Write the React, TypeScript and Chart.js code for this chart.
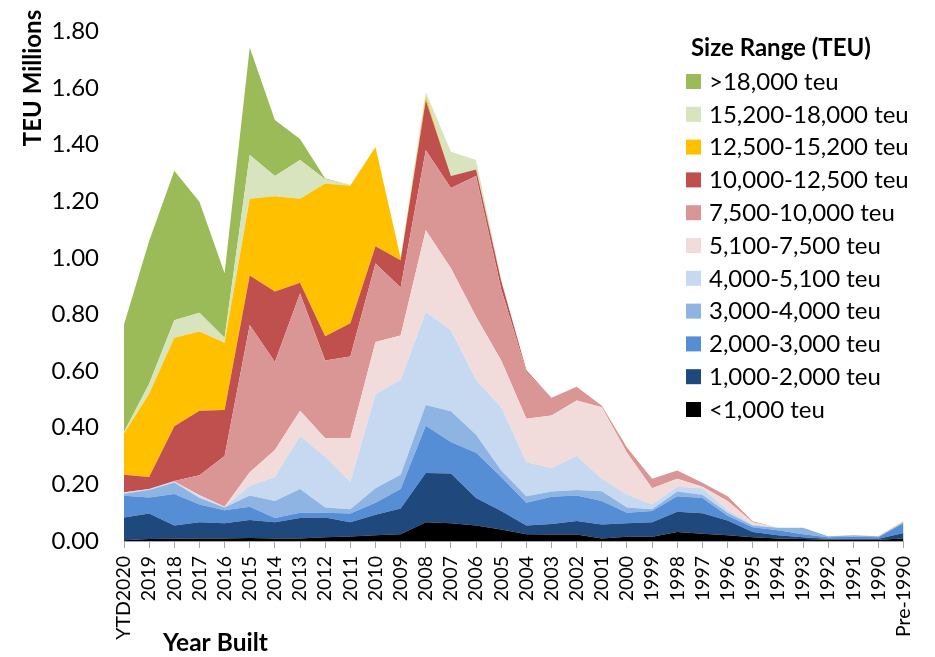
import React, { useEffect, useRef } from "react";
import { Chart, registerables } from "chart.js";

Chart.register(...registerables);

const categories = [
  "YTD2020", "2019", "2018", "2017", "2016", "2015", "2014", "2013", "2012", "2011",
  "2010", "2009", "2008", "2007", "2006", "2005", "2004", "2003", "2002", "2001",
  "2000", "1999", "1998", "1997", "1996", "1995", "1994", "1993", "1992", "1991",
  "1990", "Pre-1990",
];

const yTicks = [0, 0.2, 0.4, 0.6, 0.8, 1.0, 1.2, 1.4, 1.6, 1.8];

const lt1000 = [0.003, 0.007, 0.008, 0.009, 0.009, 0.011, 0.009, 0.009, 0.013, 0.016, 0.020, 0.024, 0.066, 0.063, 0.055, 0.041, 0.024, 0.023, 0.023, 0.009, 0.015, 0.015, 0.032, 0.026, 0.020, 0.013, 0.009, 0.007, 0.004, 0.004, 0.004, 0.009];
const s1000to2000 = [0.080, 0.090, 0.047, 0.057, 0.054, 0.063, 0.057, 0.072, 0.070, 0.050, 0.073, 0.091, 0.174, 0.175, 0.097, 0.065, 0.031, 0.037, 0.048, 0.049, 0.048, 0.051, 0.071, 0.072, 0.052, 0.019, 0.011, 0.006, 0.004, 0.004, 0.004, 0.019];
const s2000to3000 = [0.077, 0.057, 0.111, 0.063, 0.046, 0.047, 0.015, 0.019, 0.017, 0.031, 0.042, 0.069, 0.167, 0.112, 0.160, 0.120, 0.080, 0.096, 0.090, 0.083, 0.037, 0.040, 0.055, 0.054, 0.017, 0.017, 0.018, 0.011, 0.005, 0.007, 0.005, 0.036];
const s3000to4000 = [0.007, 0.026, 0.041, 0.023, 0.009, 0.040, 0.060, 0.084, 0.018, 0.015, 0.051, 0.050, 0.073, 0.108, 0.063, 0.023, 0.023, 0.019, 0.019, 0.035, 0.018, 0.006, 0.017, 0.011, 0.011, 0.006, 0.009, 0.023, 0.004, 0.005, 0.004, 0.002];
const s4000to5100 = [0.003, 0.002, 0.002, 0.005, 0.002, 0.034, 0.085, 0.187, 0.180, 0.097, 0.332, 0.335, 0.329, 0.286, 0.194, 0.223, 0.120, 0.083, 0.120, 0.044, 0.046, 0.017, 0.017, 0.023, 0.009, 0.003, 0, 0, 0, 0, 0, 0.002];
const s5100to7500 = [0.001, 0.001, 0.001, 0.005, 0.001, 0.048, 0.095, 0.089, 0.065, 0.154, 0.185, 0.157, 0.289, 0.219, 0.223, 0.166, 0.154, 0.185, 0.196, 0.252, 0.148, 0.057, 0.028, 0.006, 0.032, 0.008, 0, 0, 0, 0, 0, 0];
const s7500to10000 = [0.001, 0.001, 0.002, 0.070, 0.179, 0.520, 0.311, 0.414, 0.275, 0.289, 0.277, 0.169, 0.282, 0.284, 0.497, 0.251, 0.166, 0.063, 0.049, 0.006, 0.018, 0.034, 0.029, 0.014, 0.017, 0.004, 0, 0, 0, 0, 0, 0];
const s10000to12500 = [0.062, 0.042, 0.193, 0.228, 0.163, 0.175, 0.249, 0.038, 0.085, 0.117, 0.061, 0.097, 0.177, 0.042, 0.023, 0.029, 0.005, 0, 0, 0, 0, 0, 0, 0, 0, 0, 0, 0, 0, 0, 0, 0];
const s12500to15200 = [0.146, 0.294, 0.313, 0.280, 0.237, 0.271, 0.337, 0.297, 0.540, 0.486, 0.351, 0.008, 0.012, 0, 0, 0, 0, 0, 0, 0, 0, 0, 0, 0, 0, 0, 0, 0, 0, 0, 0, 0.002];
const s15200to18000 = [0.005, 0.035, 0.062, 0.066, 0.018, 0.154, 0.071, 0.137, 0.015, 0.003, 0, 0, 0.017, 0.086, 0.034, 0.004, 0, 0, 0, 0, 0, 0, 0, 0, 0, 0, 0, 0, 0, 0, 0, 0.002];
const gt18000 = [0.380, 0.505, 0.528, 0.392, 0.228, 0.380, 0.198, 0.074, 0.002, 0, 0, 0, 0, 0, 0, 0, 0, 0, 0, 0, 0, 0, 0, 0, 0, 0, 0, 0, 0, 0, 0, 0];

const seriesLabels = [
  "<1,000 teu", "1,000-2,000 teu", "2,000-3,000 teu", "3,000-4,000 teu", "4,000-5,100 teu",
  "5,100-7,500 teu", "7,500-10,000 teu", "10,000-12,500 teu", "12,500-15,200 teu",
  "15,200-18,000 teu", ">18,000 teu",
];
const seriesData = [
  lt1000, s1000to2000, s2000to3000, s3000to4000, s4000to5100, s5100to7500,
  s7500to10000, s10000to12500, s12500to15200, s15200to18000, gt18000,
];
const seriesColors = [
  "#000000", "#1F497D", "#558ED5", "#8EB4E3", "#C6D9F1", "#F2DCDB",
  "#D99694", "#C0504D", "#FFC000", "#D7E4BD", "#9BBB59",
];

const FONT = "Lato, 'Open Sans', sans-serif";

const overlayPlugin = {
  id: "overlay",
  afterDraw(chart: any) {
    const ctx = chart.ctx;
    ctx.save();
    ctx.fillStyle = "#000";
    // Y title
    ctx.save();
    ctx.translate(33, 78);
    ctx.rotate(-Math.PI / 2);
    ctx.font = `bold 24px ${FONT}`;
    ctx.textAlign = "center";
    ctx.textBaseline = "middle";
    ctx.fillText("TEU Millions", 0, 0);
    ctx.restore();
    // X title
    ctx.font = `bold 24.5px ${FONT}`;
    ctx.textAlign = "left";
    ctx.textBaseline = "middle";
    ctx.fillText("Year Built", 163, 643);
    // Legend
    ctx.font = `bold 24px ${FONT}`;
    ctx.fillText("Size Range (TEU)", 691, 48);
    ctx.font = `24px ${FONT}`;
    const ds = chart.data.datasets;
    for (let k = 0; k < ds.length; k++) {
      const d = ds[ds.length - 1 - k];
      const y = 81 + k * 32.8;
      ctx.fillStyle = d.backgroundColor;
      ctx.fillRect(686, y - 7, 15, 15);
      ctx.fillStyle = "#000";
      ctx.fillText(d.label, 709, y + 1);
    }
    ctx.restore();
  },
};

export default function App() {
  const ref = useRef<HTMLCanvasElement | null>(null);
  useEffect(() => {
    if (!ref.current) return;
    const chart = new Chart(ref.current, {
      type: "line",
      data: {
        labels: categories,
        datasets: seriesData.map((d, i) => ({
          label: seriesLabels[i],
          data: d,
          backgroundColor: seriesColors[i],
          borderColor: seriesColors[i],
          borderWidth: 0,
          pointRadius: 0,
          tension: 0,
          fill: i === 0 ? "origin" : "-1",
        })),
      },
      options: {
        animation: false,
        responsive: true,
        maintainAspectRatio: false,
        devicePixelRatio: 1,
        layout: { padding: { left: 0, right: 15, top: 16, bottom: 0 } },
        plugins: { legend: { display: false }, tooltip: { enabled: false } },
        scales: {
          x: {
            offset: false,
            grid: { display: true, drawOnChartArea: false, drawTicks: true, tickLength: 7, color: "#A6A6A6" },
            border: { display: true, color: "#A6A6A6" },
            ticks: {
              autoSkip: false,
              minRotation: 90,
              maxRotation: 90,
              padding: 8,
              color: "#000",
              font: { family: FONT, size: 19.5 },
            },
            afterFit: (s: any) => { s.height = 116; },
          },
          y: {
            stacked: true,
            min: 0,
            max: 1.8,
            afterBuildTicks: (s: any) => { s.ticks = yTicks.map((v) => ({ value: v })); },
            grid: { display: false },
            border: { display: false },
            ticks: {
              padding: 17,
              color: "#000",
              font: { family: FONT, size: 24 },
              callback: (v: any) => Number(v).toFixed(2),
            },
            afterFit: (s: any) => { s.width = 124; },
          },
        },
      },
      plugins: [overlayPlugin],
    });
    return () => chart.destroy();
  }, []);
  return (
    <div style={{ position: "fixed", left: 0, top: 0, width: 935, height: 657, background: "#fff" }}>
      <canvas ref={ref} />
    </div>
  );
}
